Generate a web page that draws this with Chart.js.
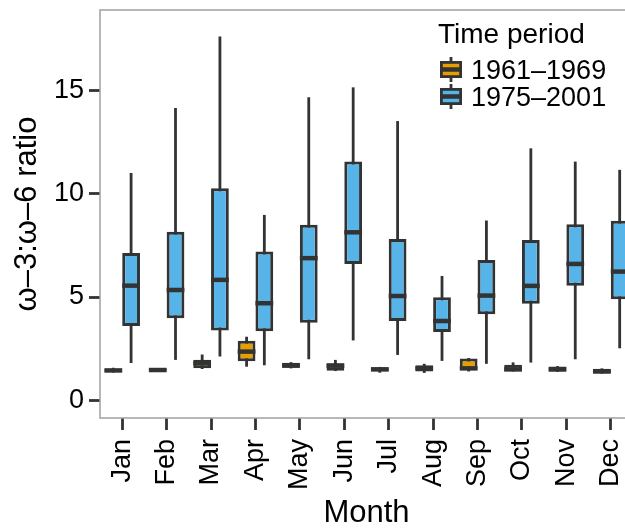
<!DOCTYPE html>
<html>
<head>
<meta charset="utf-8">
<script src="https://cdn.jsdelivr.net/npm/chart.js@4/dist/chart.umd.min.js"></script>
<style>
  html, body { margin: 0; padding: 0; overflow: hidden; background: #fff; }
  canvas { display: block; }
</style>
</head>
<body>
<canvas id="grafico" width="660" height="529"></canvas>
<script>
const months = ['Jan', 'Feb', 'Mar', 'Apr', 'May', 'Jun', 'Jul', 'Aug', 'Sep', 'Oct', 'Nov', 'Dec'];
const yTicks = [0, 5, 10, 15];
const periods = ['1961–1969', '1975–2001'];

// 1961–1969 (orange)
const earlyLow  = [1.35, 1.38, 1.52, 1.63, 1.55, 1.42, 1.34, 1.33, 1.40, 1.40, 1.38, 1.30];
const earlyQ1   = [1.38, 1.40, 1.55, 1.90, 1.62, 1.44, 1.42, 1.40, 1.48, 1.42, 1.40, 1.32];
const earlyMed  = [1.45, 1.47, 1.80, 2.36, 1.68, 1.68, 1.50, 1.55, 1.55, 1.50, 1.50, 1.40];
const earlyQ3   = [1.53, 1.55, 1.97, 2.88, 1.82, 1.80, 1.60, 1.70, 2.03, 1.72, 1.64, 1.53];
const earlyHigh = [1.58, 1.57, 2.22, 3.08, 1.85, 1.96, 1.62, 1.77, 2.05, 1.84, 1.66, 1.55];

// 1975–2001 (blue)
const lateLow  = [1.81, 1.96, 2.12, 1.70, 1.99, 2.90, 2.20, 1.91, 1.77, 1.83, 1.99, 2.52];
const lateQ1   = [3.60, 3.97, 3.38, 3.35, 3.76, 6.60, 3.84, 3.31, 4.17, 4.67, 5.54, 4.89];
const lateMed  = [5.55, 5.34, 5.83, 4.70, 6.88, 8.13, 5.05, 3.84, 5.07, 5.54, 6.60, 6.23];
const lateQ3   = [7.13, 8.16, 10.26, 7.20, 8.49, 11.55, 7.81, 4.99, 6.79, 7.76, 8.52, 8.69];
const lateHigh = [11.0, 14.14, 17.6, 8.97, 14.66, 15.14, 13.51, 6.02, 8.70, 12.19, 11.55, 11.15];

const FONT = '"Liberation Sans", Arial, Helvetica, sans-serif';
const DARK = '#333333';

// whiskers behind the boxes, medians on top
const boxParts = {
  id: 'boxParts',
  beforeDatasetsDraw(chart) {
    const ctx = chart.ctx;
    const y = chart.scales.y;
    ctx.save();
    ctx.strokeStyle = DARK;
    ctx.lineWidth = 2.8;
    chart.data.datasets.forEach((ds, d) => {
      chart.getDatasetMeta(d).data.forEach((bar, i) => {
        ctx.beginPath();
        ctx.moveTo(bar.x, y.getPixelForValue(ds.low[i]));
        ctx.lineTo(bar.x, y.getPixelForValue(ds.high[i]));
        ctx.stroke();
      });
    });
    ctx.restore();
  },
  afterDatasetsDraw(chart) {
    const ctx = chart.ctx;
    const y = chart.scales.y;
    ctx.save();
    ctx.strokeStyle = DARK;
    ctx.lineWidth = 4.5;
    chart.data.datasets.forEach((ds, d) => {
      chart.getDatasetMeta(d).data.forEach((bar, i) => {
        const py = y.getPixelForValue(ds.median[i]);
        ctx.beginPath();
        ctx.moveTo(bar.x - bar.width / 2, py);
        ctx.lineTo(bar.x + bar.width / 2, py);
        ctx.stroke();
      });
    });
    // panel border
    const a = chart.chartArea;
    ctx.strokeStyle = '#a0a0a0';
    ctx.lineWidth = 1.5;
    ctx.strokeRect(a.left, a.top, a.right - a.left, a.bottom - a.top);
    ctx.restore();
  }
};

// legend inside the panel, with small boxplot keys
const boxLegend = {
  id: 'boxLegend',
  afterDraw(chart) {
    const ctx = chart.ctx;
    ctx.save();
    ctx.fillStyle = '#000';
    ctx.textBaseline = 'alphabetic';
    ctx.font = '28px ' + FONT;
    ctx.fillText('Time period', 438, 43);
    chart.data.datasets.forEach((ds, d) => {
      const top = 61 + d * 27;
      ctx.strokeStyle = DARK;
      ctx.lineWidth = 2.8;
      ctx.beginPath();
      ctx.moveTo(451, top - 4);
      ctx.lineTo(451, top + 21);
      ctx.stroke();
      ctx.fillStyle = ds.backgroundColor;
      ctx.fillRect(440, top, 22, 17);
      ctx.strokeRect(441.4, top + 1.4, 19.2, 14.2);
      ctx.lineWidth = 4.5;
      ctx.beginPath();
      ctx.moveTo(440, top + 8.5);
      ctx.lineTo(462, top + 8.5);
      ctx.stroke();
      ctx.fillStyle = '#000';
      ctx.font = '27px ' + FONT;
      ctx.fillText(ds.label, 471, top + 18);
    });
    ctx.restore();
  }
};

new Chart(document.getElementById('grafico').getContext('2d'), {
  type: 'bar',
  data: {
    labels: months,
    datasets: [
      {
        label: periods[0],
        data: earlyQ1.map((v, i) => [v, earlyQ3[i]]),
        low: earlyLow, median: earlyMed, high: earlyHigh,
        backgroundColor: '#E69F00'
      },
      {
        label: periods[1],
        data: lateQ1.map((v, i) => [v, lateQ3[i]]),
        low: lateLow, median: lateMed, high: lateHigh,
        backgroundColor: '#56B4E9'
      }
    ]
  },
  options: {
    responsive: false,
    animation: false,
    layout: { padding: { top: 10, right: 27, left: 0, bottom: 0 } },
    datasets: {
      bar: {
        borderColor: DARK,
        borderWidth: 3,
        borderSkipped: false,
        categoryPercentage: 0.8,
        barPercentage: 1
      }
    },
    plugins: {
      legend: { display: false },
      tooltip: { enabled: false }
    },
    scales: {
      x: {
        afterFit: s => { s.height = 111; s.paddingLeft = 0; s.paddingRight = 0; },
        border: { display: false },
        grid: { offset: false, drawOnChartArea: false, tickLength: 12, tickColor: DARK, tickWidth: 2.8 },
        ticks: { minRotation: 90, maxRotation: 90, autoSkip: false, padding: 9, color: '#000', font: { family: FONT, size: 27 } },
        title: { display: true, text: 'Month', color: '#000', font: { family: FONT, size: 31, lineHeight: 1.0 }, padding: 0 }
      },
      y: {
        min: -0.85,
        max: 18.88,
        afterBuildTicks: s => { s.ticks = yTicks.map(v => ({ value: v })); },
        afterFit: s => { s.width = 100; s.paddingTop = 0; s.paddingBottom = 0; },
        border: { display: false },
        grid: { drawOnChartArea: false, tickLength: 11, tickColor: DARK, tickWidth: 2.8 },
        ticks: { padding: 5, color: '#000', font: { family: FONT, size: 27 } },
        title: { display: true, text: 'ω–3:ω–6 ratio', color: '#000', font: { family: FONT, size: 31, lineHeight: 1.1 }, padding: { top: 10, bottom: 0 } }
      }
    }
  },
  plugins: [boxParts, boxLegend]
});
</script>
</body>
</html>
